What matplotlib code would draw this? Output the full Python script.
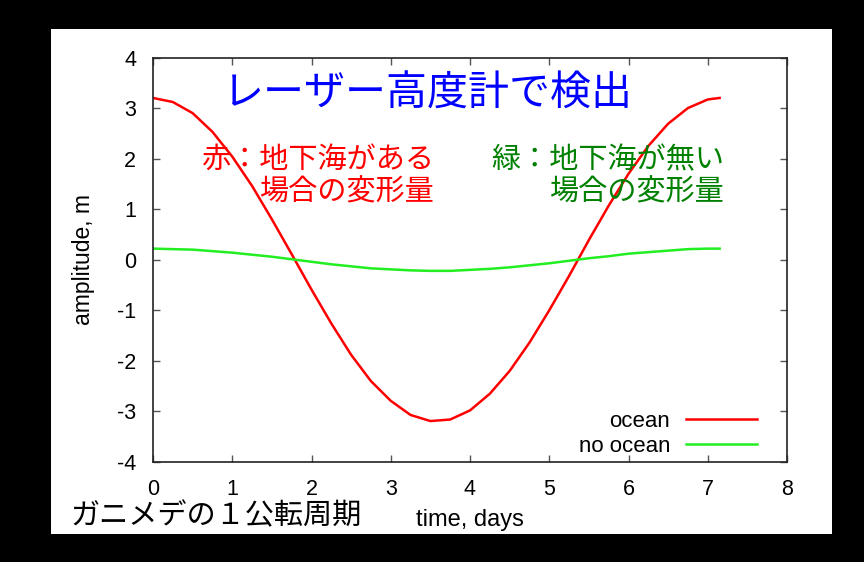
import matplotlib
matplotlib.use("Agg")
import matplotlib.pyplot as plt
from matplotlib.patches import Rectangle

plt.rcParams['font.family'] = ['Liberation Sans', 'DejaVu Sans']
plt.rcParams['axes.unicode_minus'] = False
JP = ['Noto Sans CJK JP', 'DejaVu Sans']

# data
time_days = [0.0, 0.25, 0.5, 0.75, 1.0, 1.25, 1.5, 1.75, 2.0, 2.25, 2.5, 2.75,
             3.0, 3.25, 3.5, 3.75, 4.0, 4.25, 4.5, 4.75, 5.0, 5.25, 5.5, 5.75,
             6.0, 6.25, 6.5, 6.75, 7.0, 7.15]
ocean = [3.20, 3.12, 2.90, 2.53, 2.04, 1.46, 0.80, 0.11, -0.59, -1.26, -1.88, -2.40,
         -2.79, -3.07, -3.19, -3.16, -2.98, -2.65, -2.20, -1.64, -1.00, -0.32, 0.39, 1.07,
         1.70, 2.25, 2.69, 3.00, 3.17, 3.20]
no_ocean = [0.22, 0.21, 0.20, 0.17, 0.14, 0.10, 0.06, 0.01, -0.04, -0.09, -0.13, -0.17,
            -0.19, -0.21, -0.22, -0.22, -0.20, -0.18, -0.15, -0.11, -0.07, -0.02, 0.03, 0.07,
            0.12, 0.15, 0.18, 0.21, 0.22, 0.22]
x_ticks = [0, 1, 2, 3, 4, 5, 6, 7, 8]
y_ticks = [-4, -3, -2, -1, 0, 1, 2, 3, 4]

W, H = 864, 562
fig = plt.figure(figsize=(W / 100, H / 100), dpi=100, facecolor='black')
fig.patches.append(Rectangle((51 / W, 1 - 534 / H), (832 - 51) / W, (534 - 29) / H,
                             transform=fig.transFigure, facecolor='white',
                             edgecolor='none', zorder=-10))

ax = fig.add_axes([153 / W, 1 - 462 / H, (787 - 153) / W, (462 - 57.5) / H])
ax.set_zorder(1)
ax.set_facecolor('white')
ax.plot(time_days, ocean, color='#ff0000', lw=1.8, label='ocean', solid_joinstyle='round')
ax.plot(time_days, no_ocean, color='#22ee22', lw=1.8, label='no ocean', solid_joinstyle='round')

ax.set_xlim(0, 8)
ax.set_ylim(-4, 4)
ax.set_xticks(x_ticks)
ax.set_yticks(y_ticks)
ax.tick_params(direction='in', length=5, width=1, color='#555555', labelsize=15.5,
               top=True, right=True, pad=12)
ax.tick_params(axis='x', pad=12)
for s in ax.spines.values():
    s.set_color('#222222')
    s.set_linewidth(1.2)

ax.set_xlabel('time, days', fontsize=17, labelpad=7)
ax.set_ylabel('amplitude, m', fontsize=16.5, labelpad=16)

leg = ax.legend(loc='lower right', bbox_to_anchor=(0.977, -0.025), frameon=False,
                markerfirst=False, fontsize=16, handlelength=3.2, handletextpad=0.7,
                labelspacing=0.15, borderpad=0.2)

fig.text(428 / W, 1 - 94 / H, 'レーザー高度計で検出', family=JP, color='#0000ff',
         fontsize=29.5, ha='center', va='center')
fig.text(434 / W, 1 - 176 / H, '赤：地下海がある\n場合の変形量', family=JP, color='#ff0000',
         fontsize=21, ha='right', va='center', ma='right', linespacing=1.1)
fig.text(724 / W, 1 - 176 / H, '緑：地下海が無い\n場合の変形量', family=JP, color='#008000',
         fontsize=21, ha='right', va='center', ma='right', linespacing=1.1)
fig.text(70 / W, 1 - 516 / H, 'ガニメデの１公転周期', family=JP, color='black',
         fontsize=21, ha='left', va='center')

fig.savefig('out.png', dpi=100, facecolor='black')
